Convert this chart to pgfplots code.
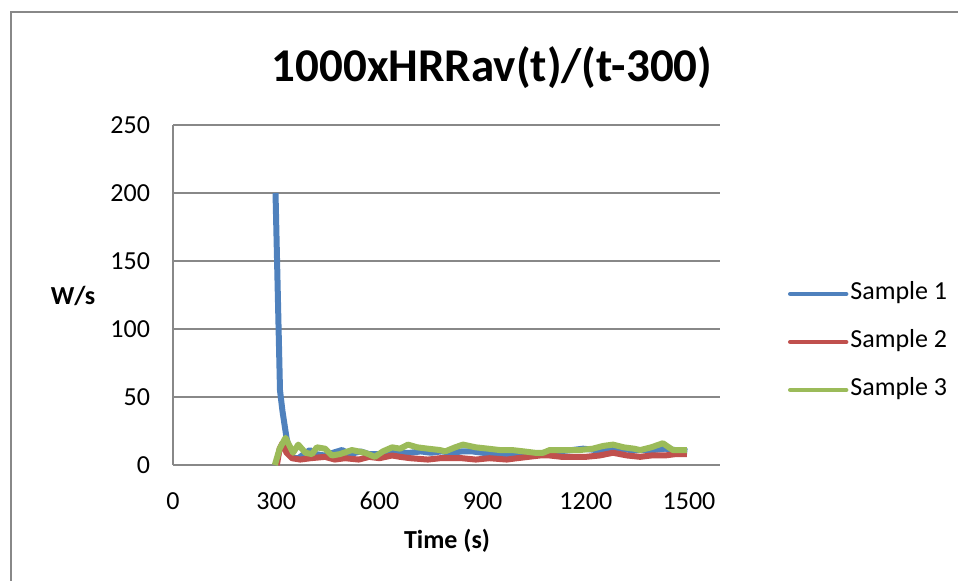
\documentclass[border=0pt]{standalone}
\usepackage{pgfplots}
\pgfplotsset{compat=1.18}
\usepackage{fontspec}
\setmainfont{Carlito}

\definecolor{sblue}{HTML}{4F81BD}
\definecolor{sred}{HTML}{C0504D}
\definecolor{sgreen}{HTML}{9BBB59}
\definecolor{gridgray}{HTML}{888888}

\begin{document}
\begin{tikzpicture}
\path[use as bounding box] (0,0) rectangle (479pt,290pt);
% chart frame (left and top edges only are visible)
\draw[gridgray, line width=0.9pt] (5.5pt,-2pt) -- (5.5pt,284pt) -- (482pt,284pt);

\begin{axis}[
    at={(86.5pt,57.5pt)}, anchor=south west,
    scale only axis, width=273.5pt, height=170pt,
    xmin=0, xmax=1590, ymin=0, ymax=250,
    xtick={0,300,600,900,1200,1500},
    ytick={0,50,100,150,200,250},
    major tick length=0pt,
    axis lines=left,
    axis line style={gridgray, line width=1pt, -},
    ymajorgrids,
    grid style={gridgray, line width=1pt},
    font=\fontsize{13}{15}\selectfont,
    /pgf/number format/assume math mode=true,
    /pgf/number format/set thousands separator={},
    xticklabel style={anchor=center, yshift=-18pt},
    yticklabel style={anchor=east, xshift=-8pt},
    legend style={at={(1.1243,0.3618)}, anchor=west, draw=none, fill=none,
        inner sep=0pt, outer sep=0pt, row sep=13pt, column sep=1pt,
        nodes={inner sep=0pt, text height=8.5pt, text depth=2.5pt},
        font=\fontsize{13}{15}\selectfont},
    legend cell align=left,
    legend image code/.code={\draw[#1, line width=2.2pt, line cap=round] (0pt,0pt) -- (28pt,0pt);},
    every axis plot/.append style={line width=3pt, line join=round, no markers},
]
\addplot[sblue] coordinates {
(298,200) (311,55) (318,40) (330,20) (340,8) (350,5) (365,5) (380,8) (398,11)
(415,8) (440,7) (465,9) (491,11) (515,8) (545,10) (570,8) (600,8) (630,9)
(660,9) (690,9) (720,10) (750,9) (780,10) (810,9) (840,10) (870,10) (900,9)
(930,9) (960,8) (1000,8) (1040,8) (1080,9) (1120,10) (1160,11) (1192,12)
(1230,11) (1260,11) (1300,12) (1330,11) (1360,11) (1395,11) (1430,12)
(1460,11) (1495,10)
};
\addlegendentry{Sample 1}
\addplot[sred] coordinates {
(302,0) (310,12) (318,16) (330,9) (346,5) (370,4) (400,5) (442,6) (470,4)
(500,5) (540,4) (570,6) (600,5) (637,7) (660,6) (690,5) (741,4) (776,5)
(800,5) (840,5) (880,4) (920,5) (970,4) (1000,5) (1033,6) (1067,7) (1095,7)
(1130,6) (1163,6) (1200,6) (1240,7) (1279,9) (1320,7) (1358,6) (1390,7)
(1430,7) (1460,8) (1494,8)
};
\addlegendentry{Sample 2}
\addplot[sgreen] coordinates {
(296,0) (310,12) (327,20) (349,9) (364,15) (385,9) (404,8) (418,13) (442,12)
(462,7) (485,8) (520,11) (558,9) (587,6) (610,10) (637,13) (660,12) (683,15)
(710,13) (741,12) (776,11) (791,10) (820,13) (843,15) (880,13) (916,12)
(950,11) (985,11) (1020,10) (1052,9) (1076,9) (1095,11) (1116,11) (1150,11)
(1183,11) (1220,12) (1250,14) (1279,15) (1310,13) (1340,12) (1358,11)
(1390,13) (1424,16) (1453,11) (1475,11) (1494,11)
};
\addlegendentry{Sample 3}
\end{axis}

\node[font=\fontsize{23.5}{28}\selectfont\bfseries] at (246pt,256pt) {1000xHRRav(t)/(t-300)};
\node[font=\fontsize{13}{15}\selectfont\bfseries] at (36.5pt,142pt) {W/s};
\node[font=\fontsize{13}{15}\selectfont\bfseries] at (223.5pt,19.5pt) {Time (s)};
\end{tikzpicture}
\end{document}
